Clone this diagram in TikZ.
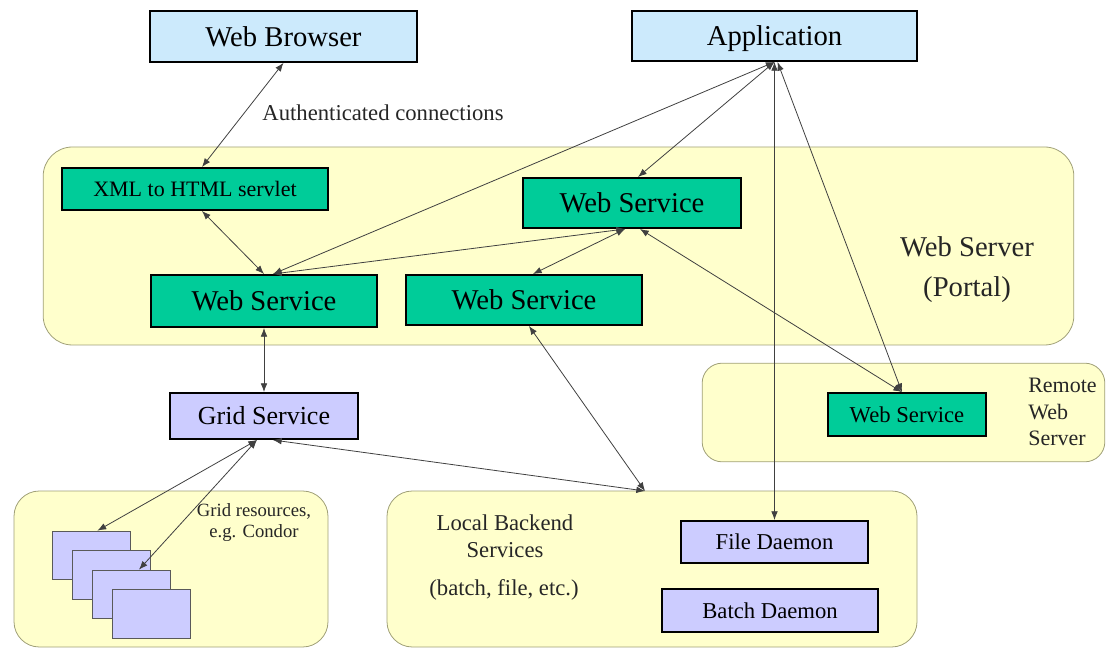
\documentclass[tikz,border=0pt]{standalone}
\usepackage{fontspec}
\setmainfont{Liberation Serif}
\usetikzlibrary{calc,arrows.meta}

\definecolor{browserblue}{RGB}{204,234,252}
\definecolor{servicegreen}{RGB}{0,204,153}
\definecolor{gridlilac}{RGB}{204,204,255}
\definecolor{serverbg}{RGB}{255,255,204}
\definecolor{serveredge}{RGB}{160,160,120}

\begin{document}
\begin{tikzpicture}[x=0.75pt,y=-0.75pt]

\useasboundingbox (0,0) rectangle (1106,648);

\tikzstyle{server}=[draw=serveredge,fill=serverbg,line width=0.6pt,inner sep=0pt]
\tikzstyle{clientbox}=[draw,line width=1.5pt,fill=browserblue,inner sep=0pt,text height=14.6pt,text depth=0pt,font=\fontsize{21.5}{24}\selectfont]
\tikzstyle{servicebox}=[draw,line width=1.5pt,fill=servicegreen,inner sep=0pt,text height=14.6pt,text depth=0pt,font=\fontsize{21.5}{24}\selectfont]
\tikzstyle{gridbox}=[draw,line width=1.5pt,fill=gridlilac,inner sep=0pt,text height=11.6pt,text depth=0pt,font=\fontsize{17}{20}\selectfont]
\tikzstyle{stackbox}=[draw=black!65,line width=0.8pt,fill=gridlilac,minimum width=59pt,minimum height=36.5pt]
\tikzstyle{note}=[inner sep=0pt,text=black!85,font=\fontsize{17}{20}\selectfont]
\tikzstyle{link}=[draw=black!75,line width=0.6pt,<->,>={Latex[length=6.5pt,width=5pt]}]

% Server areas in the background
\node[server,rounded corners=22pt,minimum width=773pt,minimum height=148.5pt] (portal) at (558.5,246) {};
\node[server,rounded corners=15pt,minimum width=302pt,minimum height=74pt] (remote) at (903.5,412.5) {};
\node[server,rounded corners=19pt,minimum width=235.5pt,minimum height=117pt] (gridres) at (171,569) {};
\node[server,rounded corners=19pt,minimum width=397.5pt,minimum height=117pt] (local) at (652,569) {};

% Clients
\node[clientbox,minimum width=200pt,minimum height=38pt] (wb) at (283.5,36.5) {Web Browser};
\node[clientbox,minimum width=214pt,minimum height=37.5pt] (app) at (774.5,36) {Application};

% Portal services
\node[servicebox,minimum width=199.5pt,minimum height=31.5pt,text height=11.2pt,font=\fontsize{16.5}{20}\selectfont] (xml) at (195,189) {XML to HTML servlet};
\node[servicebox,minimum width=163.5pt,minimum height=37.5pt] (ws1) at (632,203) {Web Service};
\node[servicebox,minimum width=169.5pt,minimum height=39pt] (ws2) at (264,301) {Web Service};
\node[servicebox,minimum width=177pt,minimum height=37.5pt] (ws3) at (524,300) {Web Service};
\node[servicebox,minimum width=118.5pt,minimum height=32pt,text height=11.6pt,font=\fontsize{17}{20}\selectfont] (rws) at (907,414.5) {Web Service};

% Grid and backend
\node[gridbox,minimum width=141pt,minimum height=34.5pt,text height=13.3pt,font=\fontsize{19.5}{22}\selectfont] (grid) at (264,416) {Grid Service};
\node[gridbox,minimum width=140pt,minimum height=31.5pt] (fd) at (774.5,542) {File Daemon};
\node[gridbox,minimum width=162pt,minimum height=32pt] (bd) at (770,610.5) {Batch Daemon};

\foreach \i in {1,...,4}
  \node[stackbox] (r\i) at (71.5+20*\i,536+19.5*\i) {};

% Texts
\node[note] (authtxt) at (383,113) {Authenticated connections};
\node[note,align=center,font=\fontsize{21.5}{30}\selectfont] (portaltxt) at (967,270) {Web Server\\(Portal)};
\node[note,align=left,anchor=west,font=\fontsize{16.5}{20}\selectfont] (remotetxt) at (1028,412) {Remote\\Web\\Server};
\node[note,align=center,font=\fontsize{14}{16}\selectfont] (gridtxt) at (254,522.5) {Grid resources,\\e.g. Condor};
\node[note,align=center] (localtxt) at (505,536.5) {Local Backend\\Services};
\node[note] (batchtxt) at (504,590) {(batch, file, etc.)};

\coordinate (lbtop) at (645,491);

% Connections
\draw[link] (wb.south) -- ($(xml.north)+(7,0)$);
\draw[link] ($(xml.south)+(7,0)$) -- (ws2.north);
\draw[link] (app.south) -- ($(ws2.north)+(9,0)$);
\draw[link] (app.south) -- ($(ws1.north)+(6,0)$);
\draw[link] (app.south) -- (fd.north);
\draw[link] ($(app.south)+(3,0)$) -- ($(rws.north)+(-5,0)$);
\draw[link] ($(ws1.south)+(-7,0)$) -- ($(ws2.north)+(9,0)$);
\draw[link] ($(ws1.south)+(-7,0)$) -- ($(ws3.north)+(9,0)$);
\draw[link] ($(ws1.south)+(8,0)$) -- ($(rws.north)+(-5,0)$);
\draw[link] (ws2.south) -- (grid.north);
\draw[link] ($(ws3.south)+(5,0)$) -- (lbtop);
\draw[link] ($(grid.south)+(9,0)$) -- (lbtop);
\draw[link] ($(grid.south)+(-7,0)$) -- ($(r1.north)+(6,0)$);
\draw[link] ($(grid.south)+(-7,0)$) -- ($(r3.north)+(7.5,0)$);

\end{tikzpicture}
\end{document}
